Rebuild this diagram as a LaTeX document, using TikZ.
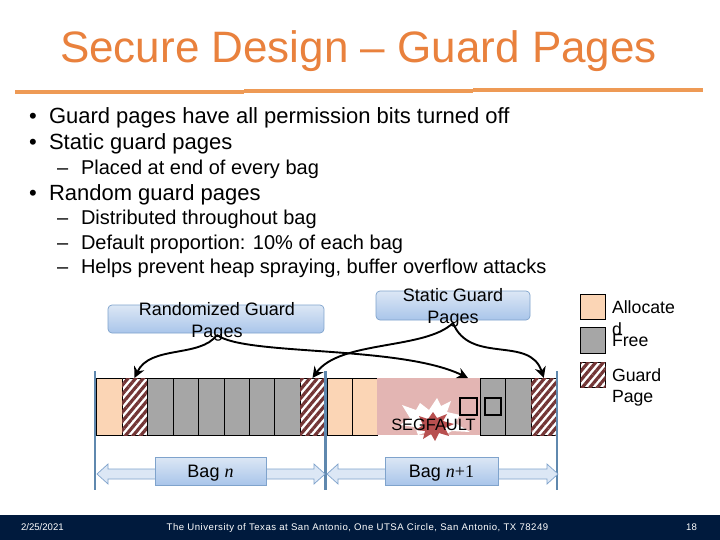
\documentclass[tikz,border=0pt]{standalone}
\usepackage{fontspec}
\setmainfont{Liberation Sans}
\newfontfamily\footwidefont[LetterSpace=5.3]{Liberation Sans}
\newfontfamily\bagserif{Liberation Serif}
\usetikzlibrary{arrows.meta,patterns.meta,shapes.arrows}
\definecolor{peach}{HTML}{FBD5B5}
\definecolor{freegray}{HTML}{A6A6A6}
\definecolor{pinkzone}{HTML}{E3B5B3}
\definecolor{maroonh}{HTML}{733535}
\definecolor{orangeT}{HTML}{E9813D}
\definecolor{orangeL}{HTML}{EE9A55}
\definecolor{bluel}{HTML}{5F88AE}
\definecolor{navyf}{HTML}{001A3D}
\definecolor{boxedge}{HTML}{7FA3CC}
\definecolor{boxtop}{HTML}{DCE7F5}
\definecolor{boxbot}{HTML}{A9C5EA}
\definecolor{burst}{HTML}{B85050}
\tikzset{
  x=1pt,y=-1pt,
  txt/.style={inner sep=0pt,outer sep=0pt,anchor=base west,text=black,font=\fontsize{22}{24}\selectfont},
  subtxt/.style={txt,font=\fontsize{20}{22}\selectfont},
  cellbox/.style={draw=black,line width=.8pt,inner sep=0pt,outer sep=0pt,minimum height=57pt},
  alloc/.style={cellbox,fill=peach},
  freec/.style={cellbox,fill=freegray},
  guardc/.style={cellbox,fill=white,postaction={pattern={Lines[angle=50,distance=5.8pt,line width=3.2pt]},pattern color=maroonh}},
  callout/.style={draw=boxedge,line width=.7pt,rounded corners=4pt,top color=boxtop,bottom color=boxbot,inner sep=0pt,outer sep=0pt},
  calltxt/.style={inner sep=0pt,outer sep=0pt,align=center,text=black,font=\fontsize{18}{22}\selectfont},
  pointer/.style={draw=black,line width=1.9pt,-{Stealth[length=11pt,width=11pt]}},
  bagline/.style={draw=bluel,line width=2.4pt},
  bagarrow/.style={draw=boxedge,line width=.7pt,fill=boxtop},
  baglabel/.style={draw=boxedge,line width=.7pt,top color=boxtop,bottom color=boxbot,inner sep=0pt,outer sep=0pt,text=black,minimum height=28pt,text depth=0pt,font=\fontsize{18}{20}\selectfont},
  legendtxt/.style={inner sep=0pt,outer sep=0pt,anchor=base west,text=black,font=\fontsize{17.7}{20}\selectfont},
  foot/.style={inner sep=0pt,outer sep=0pt,text=white,font=\fontsize{9.6}{11}\selectfont},
  footwide/.style={foot,font=\footwidefont\fontsize{9.6}{11}\selectfont},
}
\begin{document}
\begin{tikzpicture}
\useasboundingbox (0,0) rectangle (720,540);
\fill[white] (0,0) rectangle (720,540);
% title
\node[inner sep=0pt,text=orangeT,font=\fontsize{44}{48}\selectfont] (title) at (358.5,51) {Secure Design – Guard Pages};
\fill[orangeL] (15,89.7) rectangle (244,94.3);
\fill[orangeL] (244,88.7) rectangle (473,93.3);
\fill[orangeL] (473,87.7) rectangle (703,92.3);
% body
\node[txt] (b1d) at (29,124) {•}; \node[txt] (b1) at (49,124) {Guard pages have all permission bits turned off};
\node[txt] (b2d) at (29,150) {•}; \node[txt] (b2) at (49,150) {Static guard pages};
\node[subtxt] (s1d) at (57,174.5) {–}; \node[subtxt] (s1) at (81,174.5) {Placed at end of every bag};
\node[txt] (b3d) at (29,201) {•}; \node[txt] (b3) at (49,201) {Random guard pages};
\node[subtxt] (s2d) at (57,225) {–}; \node[subtxt] (s2) at (81,225) {Distributed throughout bag};
\node[subtxt] (s3d) at (57,249) {–}; \node[subtxt] (s3) at (81,249) {Default proportion: 10\% of each bag};
\node[subtxt] (s4d) at (57,273) {–}; \node[subtxt] (s4) at (81,273) {Helps prevent heap spraying, buffer overflow attacks};
% callouts
\node[callout,minimum width=216pt,minimum height=28pt] (rbox) at (216,319) {};
\node[callout,minimum width=154pt,minimum height=29pt] (sbox) at (453,305.5) {};
% bag 1 cells
\node[alloc,minimum width=26pt] (a1) at (109,406.5) {};
\node[guardc,minimum width=25pt] (g1) at (134.5,406.5) {};
\node[freec,minimum width=26pt] (f1) at (160,406.5) {};
\node[freec,minimum width=25pt] (f2) at (185.5,406.5) {};
\node[freec,minimum width=26pt] (f3) at (211,406.5) {};
\node[freec,minimum width=25pt] (f4) at (236.5,406.5) {};
\node[freec,minimum width=25pt] (f5) at (261.5,406.5) {};
\node[freec,minimum width=26pt] (f6) at (287,406.5) {};
\node[guardc,minimum width=25pt] (g2) at (312.5,406.5) {};
% bag 2 cells
\node[alloc,minimum width=25pt] (a2) at (339.5,406.5) {};
\node[alloc,minimum width=25pt] (a3) at (364.5,406.5) {};
\node[freec,minimum width=25.5pt] (f7) at (492.75,406.5) {};
\node[freec,minimum width=25.5pt] (f8) at (518.25,406.5) {};
\node[guardc,minimum width=25.5pt] (g3) at (543.75,406.5) {};
\node[inner sep=0pt,outer sep=0pt,fill=pinkzone,minimum width=103pt,minimum height=57.8pt] (pz) at (428.5,406.5) {};
% explosion
\fill[white] (402,405) -- (416,410) -- (420,403) -- (429,410) -- (437,398) -- (441,406) -- (451,401) -- (447,412) -- (460,415) -- (455,423) -- (470,432) -- (452,431) -- (441,437) -- (430,431) -- (418,435) -- (415,427) -- (400,425) -- (410,418) -- cycle;
\fill[burst] (419,416) -- (428,419) -- (433,412) -- (437,418) -- (447,414) -- (443,421) -- (454,424) -- (445,428) -- (449,436) -- (439,433) -- (435,441) -- (431,434) -- (423,439) -- (425,431) -- (416,430) -- (423,425) -- cycle;
\node[inner sep=0pt,text=black,font=\fontsize{16.4}{18}\selectfont] (seg) at (433.5,424.5) {SEGFAULT};
\node[draw=black,line width=1.6pt,minimum size=16.5pt,inner sep=0pt] (tofu1) at (468.5,406.5) {};
\node[draw=black,line width=1.6pt,minimum size=16.5pt,inner sep=0pt] (tofu2) at (493,406.5) {};
% bag lines
\coordinate (l1t) at (95,371); \coordinate (l1b) at (95,490);
\coordinate (l2t) at (325.5,371); \coordinate (l2b) at (325.5,490);
\coordinate (l3t) at (557,371); \coordinate (l3b) at (557,490);
\draw[bagline] (l1t) -- (l1b); \draw[bagline] (l2t) -- (l2b); \draw[bagline] (l3t) -- (l3b);
% bag arrows
\draw[bagarrow] (97,474) -- (108,464) -- (108,469) -- (314,469) -- (314,464) -- (325,474) -- (314,484) -- (314,479) -- (108,479) -- (108,484) -- cycle;
\draw[bagarrow] (327,474) -- (338,464) -- (338,469) -- (547,469) -- (547,464) -- (558,474) -- (547,484) -- (547,479) -- (338,479) -- (338,484) -- cycle;
\node[baglabel,minimum width=111pt] (bagn) at (210.5,471) {Bag {\bagserif\itshape n}};
\node[baglabel,minimum width=113pt] (bagm) at (441.5,471) {Bag {\bagserif\itshape n}{\bagserif +1}};
% callout texts
\node[calltxt] (rtxt) at (217,322) {Randomized Guard\\Pages};
\node[calltxt] (stxt) at (453,308) {Static Guard\\Pages};
% pointers
\coordinate (rs) at (217,335);
\coordinate (ss) at (453,323);
\coordinate (pt) at (468,378);
\path[pointer] (rs) .. controls (200,358) and (150,345) .. (g1.north);
\path[pointer] (rs) .. controls (245,356) and (400,345) .. (pt);
\path[pointer] (ss) .. controls (425,350) and (340,340) .. (g2.north);
\path[pointer] (ss) .. controls (470,365) and (530,335) .. (g3.north);
% legend
\node[alloc,minimum width=25pt,minimum height=25pt] (la) at (592.5,306.5) {};
\node[freec,minimum width=25pt,minimum height=26pt] (lf) at (593,340) {};
\node[guardc,minimum width=25pt,minimum height=25pt] (lg) at (593,375) {};
\node[legendtxt] (lt1) at (612,313) {Allocate};
\node[legendtxt] (lt2) at (612,335) {d};
\node[legendtxt] (lt3) at (612,346.5) {Free};
\node[legendtxt] (lt4) at (612,381.5) {Guard};
\node[legendtxt] (lt5) at (612,402.5) {Page};
% footer
\fill[navyf] (0,515) rectangle (720,540);
\node[foot,anchor=west] (fd) at (21,527) {2/25/2021};
\node[footwide,anchor=center] (fc) at (357.5,528) {The University of Texas at San Antonio, One UTSA Circle, San Antonio, TX 78249};
\node[foot,anchor=center] (fn) at (691.5,527) {18};
\end{tikzpicture}
\end{document}
